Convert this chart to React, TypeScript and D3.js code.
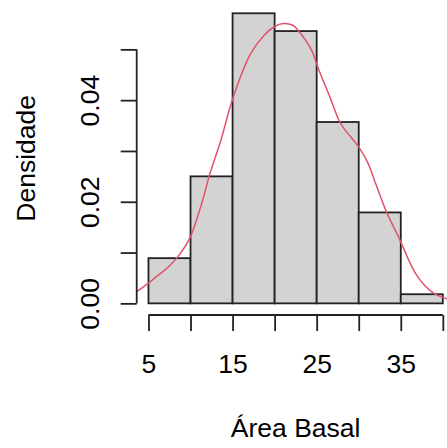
import React, { useRef, useEffect } from 'react';
import * as d3 from 'd3';

// histogram bins (Área Basal), density per bin
const binStarts = [5, 10, 15, 20, 25, 30, 35];
const binWidth = 5;
const densities = [0.0089, 0.025, 0.0571, 0.0536, 0.0357, 0.0179, 0.0018];

// kernel density curve
const curveX = [3.6, 5.0, 6.2, 7.2, 8.4, 9.9, 11.3, 12.3, 13.5, 15.1, 17.1, 18.7, 20.0, 21.0, 22.2, 23.0, 24.4, 25.2, 26.6, 27.6, 28.3, 30.0, 31.1, 32.1, 33.3, 34.7, 36.9, 38.9, 41.4];
const curveY = [0.0023, 0.0040, 0.0056, 0.0069, 0.009, 0.0128, 0.0195, 0.0255, 0.0315, 0.0407, 0.049, 0.0527, 0.0545, 0.0551, 0.0547, 0.0533, 0.0498, 0.0462, 0.0405, 0.0362, 0.0343, 0.0308, 0.0276, 0.0232, 0.018, 0.0132, 0.0055, 0.002, 0.0005];

const xTicks = [5, 10, 15, 20, 25, 30, 35, 40];
const xTickLabels = ['5', '', '15', '', '25', '', '35', ''];
const yTicks = [0, 0.01, 0.02, 0.03, 0.04, 0.05];
const yTickLabels = ['0.00', '', '0.02', '', '0.04', ''];

const xTitle = 'Área Basal';
const yTitle = 'Densidade';

export default function App() {
  const svgEl = useRef<SVGSVGElement>(null);

  const width = 447;
  const height = 448;
  const plot = { left: 136.7, right: 454.6, top: 1.6, bottom: 315 };
  const font = "'Liberation Sans', Arial, sans-serif";

  useEffect(() => {
    const svg = d3.select(svgEl.current);
    svg.selectAll('*').remove();

    const x = d3.scaleLinear().domain([3.6, 41.4]).range([plot.left, plot.right]);
    const y = d3.scaleLinear().domain([-0.00229, 0.0594]).range([plot.bottom, plot.top]);

    // bars
    svg
      .append('g')
      .selectAll('rect')
      .data(binStarts)
      .join('rect')
      .attr('x', (d) => x(d))
      .attr('y', (d, i) => y(densities[i]))
      .attr('width', (d) => x(d + binWidth) - x(d))
      .attr('height', (d, i) => y(0) - y(densities[i]))
      .attr('fill', '#D3D3D3')
      .attr('stroke', '#222')
      .attr('stroke-width', 1.8);

    // density line, clipped to plot region
    svg
      .append('clipPath')
      .attr('id', 'plotclip')
      .append('rect')
      .attr('x', plot.left)
      .attr('y', plot.top)
      .attr('width', plot.right - plot.left)
      .attr('height', plot.bottom - plot.top);

    const line = d3
      .line<number>()
      .x((d) => x(d))
      .y((d, i) => y(curveY[i]))
      .curve(d3.curveCatmullRom.alpha(0.5));

    svg
      .append('path')
      .datum(curveX)
      .attr('d', line)
      .attr('clip-path', 'url(#plotclip)')
      .attr('fill', 'none')
      .attr('stroke', '#DF536B')
      .attr('stroke-width', 1.5);

    // x axis
    const xAxis = svg
      .append('g')
      .attr('transform', `translate(0, ${plot.bottom})`)
      .call(
        d3
          .axisBottom(x)
          .tickValues(xTicks)
          .tickSize(16)
          .tickSizeOuter(0)
          .tickFormat((d, i) => xTickLabels[i])
      );
    xAxis.select('.domain').remove();
    xAxis
      .append('line')
      .attr('x1', x(xTicks[0]))
      .attr('x2', x(xTicks[xTicks.length - 1]))
      .attr('stroke', '#222')
      .attr('stroke-width', 1.8);
    xAxis.selectAll('.tick line').attr('stroke', '#222').attr('stroke-width', 1.8);
    xAxis
      .selectAll('.tick text')
      .attr('y', 58)
      .attr('dy', 0)
      .attr('fill', '#000')
      .style('font-family', font)
      .style('font-size', '26.5px');

    // y axis
    const yAxis = svg
      .append('g')
      .attr('transform', `translate(${plot.left}, 0)`)
      .call(
        d3
          .axisLeft(y)
          .tickValues(yTicks)
          .tickSize(16)
          .tickSizeOuter(0)
          .tickFormat((d, i) => yTickLabels[i])
      );
    yAxis.select('.domain').remove();
    yAxis
      .append('line')
      .attr('y1', y(yTicks[0]))
      .attr('y2', y(yTicks[yTicks.length - 1]))
      .attr('stroke', '#222')
      .attr('stroke-width', 1.8);
    yAxis.selectAll('.tick line').attr('stroke', '#222').attr('stroke-width', 1.8);
    yAxis
      .selectAll('.tick text')
      .attr('x', 0)
      .attr('dy', 0)
      .attr('text-anchor', 'middle')
      .attr('transform', 'translate(-37.7, 0) rotate(-90)')
      .attr('fill', '#000')
      .style('font-family', font)
      .style('font-size', '26.5px');

    // titles
    svg
      .append('text')
      .attr('x', (plot.left + plot.right) / 2)
      .attr('y', 437)
      .attr('text-anchor', 'middle')
      .style('font-family', font)
      .style('font-size', '26.5px')
      .text(xTitle);

    svg
      .append('text')
      .attr('transform', `translate(35, ${(plot.top + plot.bottom) / 2}) rotate(-90)`)
      .attr('text-anchor', 'middle')
      .style('font-family', font)
      .style('font-size', '26.5px')
      .text(yTitle);
  }, []);

  return (
    <svg
      ref={svgEl}
      width={width}
      height={height}
      style={{ position: 'absolute', top: 0, left: 0, background: '#fff' }}
    ></svg>
  );
}
